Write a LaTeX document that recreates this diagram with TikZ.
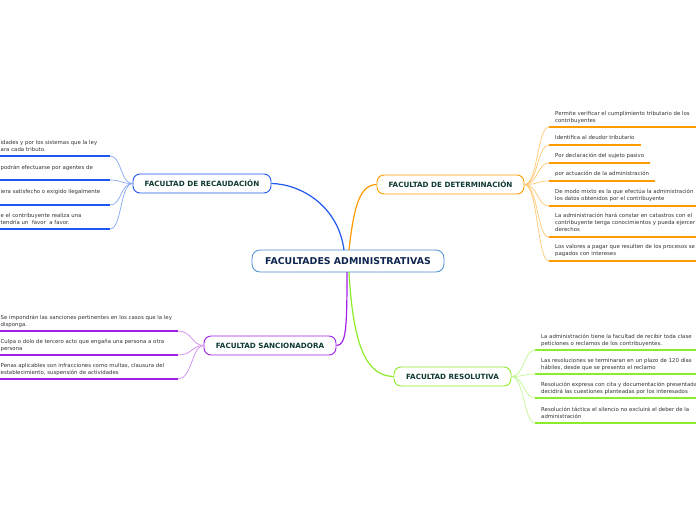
\documentclass[tikz,border=0pt]{standalone}
\usepackage{fontspec}
\setmainfont{DejaVu Sans}
\definecolor{cblue}{HTML}{1E56F0}
\definecolor{cbluel}{HTML}{86A4F2}
\definecolor{corange}{HTML}{FF9A00}
\definecolor{corangel}{HTML}{FFC870}
\definecolor{cpurple}{HTML}{A21FE8}
\definecolor{cpurplel}{HTML}{D08AF2}
\definecolor{cgreen}{HTML}{8EEB2A}
\definecolor{cgreenl}{HTML}{C2F594}
\definecolor{ctext}{HTML}{333333}
\definecolor{cnavy}{HTML}{10254F}
\definecolor{cdgreen}{HTML}{0F3A34}
\definecolor{cmain}{HTML}{4A8CD0}
\tikzset{
  mainbox/.style={draw=cmain, fill=white, rounded corners=8pt, line width=0.8pt,
    minimum width=192pt, minimum height=22pt, inner sep=0pt, text=cnavy,
    font=\bfseries\fontsize{9.4}{11}\selectfont},
  catbox/.style={draw=#1, fill=white, rounded corners=7pt, line width=0.9pt,
    minimum height=19pt, inner sep=0pt, text=cdgreen,
    font=\bfseries\fontsize{7.2}{8}\selectfont},
  leaf/.style={inner sep=0pt, align=left, text=ctext, anchor=north west,
    font=\fontsize{5.4}{7}\selectfont},
  mainline/.style={draw=#1, line width=1.2pt},
  con/.style={draw=#1, line width=0.7pt},
  ul/.style={draw=#1, line width=1.7pt},
}
\begin{document}
\begin{tikzpicture}[x=1pt,y=-1pt]
\useasboundingbox (0,0) rectangle (696,520);
% central & category nodes
\node[mainbox] (root) at (348,261) {FACULTADES ADMINISTRATIVAS};
\node[catbox=cblue, minimum width=138pt] (recaud) at (202,183.5) {FACULTAD DE RECAUDACIÓN};
\node[catbox=corange, minimum width=147pt] (determ) at (450.5,184.5) {FACULTAD DE DETERMINACIÓN};
\node[catbox=cpurple, minimum width=132pt] (sancion) at (270,345.5) {FACULTAD SANCIONADORA};
\node[catbox=cgreen, minimum width=117pt] (resol) at (452.5,376.5) {FACULTAD RESOLUTIVA};
% main connectors
\coordinate (rb) at (344,250);
\coordinate (ro) at (349,250);
\coordinate (rp) at (347,272);
\coordinate (rg) at (349,272);
\draw[mainline=cblue] (rb) .. controls (338,205) and (300,184) .. (recaud.east);
\draw[mainline=corange] (ro) .. controls (354,205) and (360,185) .. (determ.west);
\draw[mainline=cpurple] (rp) .. controls (347,330) and (346,345) .. (sancion.east);
\draw[mainline=cgreen] (rg) .. controls (353,345) and (366,376) .. (resol.west);
% ---------- Recaudacion leaves ----------
\foreach \n/\y in {1/156,2/180,3/205,4/229}{
  \coordinate (ra\n) at (110,\y);
  \coordinate (rz\n) at (0,\y);
  \draw[ul=cblue] (rz\n) -- (ra\n);
  \draw[con=cbluel] (recaud.west) .. controls (120,183.5) and (122,\y) .. (ra\n);
}
\node[leaf] (rt1) at (0.5,140.5) {idades y por los sistemas que la ley\\ara cada tributo.};
\node[leaf] (rt2) at (0.5,165) {podrán efectuarse por agentes de};
\node[leaf] (rt3) at (0.5,189) {iera satisfecho o exigido ilegalmente};
\node[leaf] (rt4) at (0.5,213.5) {e el contribuyente realiza una\\ tendría un \ favor \ a favor.};
% ---------- Determinacion leaves ----------
\foreach \n/\y/\e in {1/127/697,2/145/641,3/163/650,4/181/655,5/206/697,6/237/697,7/261/697}{
  \coordinate (da\n) at (549,\y);
  \coordinate (dz\n) at (\e,\y);
  \draw[ul=corange] (da\n) -- (dz\n);
  \draw[con=corangel] (determ.east) .. controls (538,184.5) and (537,\y) .. (da\n);
}
\node[leaf] (dt1) at (555,111) {Permite verificar el cumplimiento tributario de los\\contribuyentes};
\node[leaf] (dt2) at (555,135) {Identifica al deudor tributario};
\node[leaf] (dt3) at (555,153) {Por declaración del sujeto pasivo};
\node[leaf] (dt4) at (555,171) {por actuación de la administración};
\node[leaf] (dt5) at (555,189) {De modo mixto es la que efectúa la administración\\los datos obtenidos por el contribuyente};
\node[leaf] (dt6) at (555,213) {La administración hará constar en catastros con el\\contribuyente tenga conocimientos y pueda ejercer\\derechos};
\node[leaf] (dt7) at (555,244) {Los valores a pagar que resulten de los procesos se\\pagados con intereses};
% ---------- Resolutiva leaves ----------
\foreach \n/\y in {1/350,2/374,3/398,4/423}{
  \coordinate (sa\n) at (535,\y);
  \coordinate (sz\n) at (697,\y);
  \draw[ul=cgreen] (sa\n) -- (sz\n);
  \draw[con=cgreenl] (resol.east) .. controls (524,376.5) and (524,\y) .. (sa\n);
}
\node[leaf] (st1) at (541,333.5) {La administración tiene la facultad de recibir toda clase\\peticiones o reclamos de los contribuyentes.};
\node[leaf] (st2) at (541,357.5) {Las resoluciones se terminaran en un plazo de 120 días\\hábiles, desde que se presento el reclamo};
\node[leaf] (st3) at (541,381.5) {Resolución expresa con cita y documentación presentada\\decidirá las cuestiones planteadas por los interesados};
\node[leaf] (st4) at (541,406.5) {Resolución táctica el silencio no excluirá el deber de la\\administración};
% ---------- Sancionadora leaves ----------
\foreach \n/\y in {1/331,2/355,3/379}{
  \coordinate (pa\n) at (178,\y);
  \coordinate (pz\n) at (0,\y);
  \draw[ul=cpurple] (pz\n) -- (pa\n);
  \draw[con=cpurplel] (sancion.west) .. controls (192,345.5) and (192,\y) .. (pa\n);
}
\node[leaf] (pt1) at (0.5,315) {Se impondrán las sanciones pertinentes en los casos que la ley\\disponga.};
\node[leaf] (pt2) at (0.5,339) {Culpa o dolo de tercero acto que engaña una persona a otra\\persona};
\node[leaf] (pt3) at (0.5,363) {Penas aplicables son infracciones como multas, clausura del\\establecimiento, suspensión de actividades};
\end{tikzpicture}
\end{document}
